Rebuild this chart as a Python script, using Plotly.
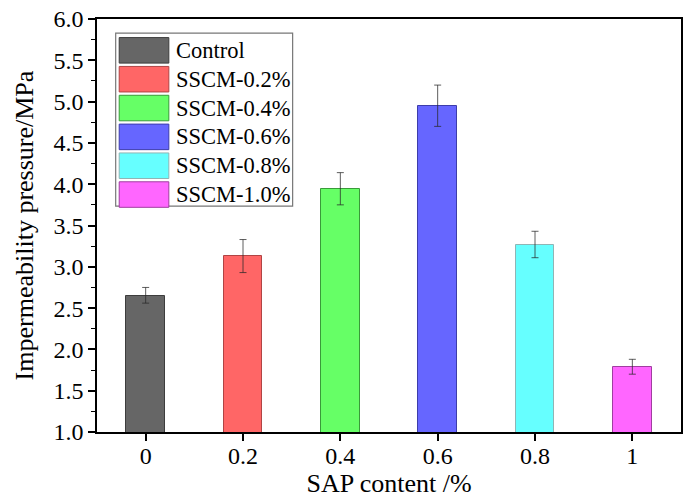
import plotly.graph_objects as go

# ---- data ----
sap_content = [0, 0.2, 0.4, 0.6, 0.8, 1.0]
tick_labels = ["0", "0.2", "0.4", "0.6", "0.8", "1"]
series_names = ["Control", "SSCM-0.2%", "SSCM-0.4%", "SSCM-0.6%", "SSCM-0.8%", "SSCM-1.0%"]
pressure = [2.65, 3.13, 3.94, 4.95, 3.27, 1.79]
err_plus = [0.10, 0.20, 0.20, 0.25, 0.16, 0.09]
err_minus = [0.09, 0.20, 0.19, 0.25, 0.16, 0.09]

# ---- styles ----
fills = ["#666666", "#FF6666", "#66FF66", "#6666FF", "#66FFFF", "#FF66FF"]
edges = ["#3d3d3d", "#b04444", "#3a9a3a", "#3d3daa", "#8fb5b5", "#a03ea0"]
FONT = "Liberation Serif, Times New Roman, serif"

fig = go.Figure()
for x, y, ep, em, name, fc, ec in zip(sap_content, pressure, err_plus, err_minus,
                                      series_names, fills, edges):
    fig.add_trace(go.Bar(
        x=[x], y=[y], name=name, width=0.08,
        marker=dict(color=fc, line=dict(color=ec, width=1)),
        error_y=dict(type="data", array=[ep], arrayminus=[em], visible=True,
                     color="rgba(40,40,40,0.75)", thickness=1, width=3.5),
        showlegend=False,
    ))

# ---- custom legend (large swatches like the original) ----
box_x0, box_x1 = 0.032, 0.335
box_top, box_bot = 0.966, 0.547
row_h = (box_top - box_bot) / len(series_names)
shapes = [dict(type="rect", xref="paper", yref="paper",
               x0=box_x0, x1=box_x1, y0=box_bot, y1=box_top,
               line=dict(color="#777777", width=1.2), fillcolor="white", layer="above")]
annotations = []
for i, (name, fc, ec) in enumerate(zip(series_names, fills, edges)):
    yt = box_top - 0.011 - i * row_h
    yb = yt - row_h + 0.008
    shapes.append(dict(type="rect", xref="paper", yref="paper",
                       x0=0.038, x1=0.123, y0=yb, y1=yt,
                       line=dict(color=ec, width=1), fillcolor=fc, layer="above"))
    annotations.append(dict(xref="paper", yref="paper", x=0.131, y=(yt + yb) / 2,
                            text=name, showarrow=False, xanchor="left", yanchor="middle",
                            font=dict(family=FONT, size=22.5, color="black")))

fig.update_layout(
    width=688, height=499,
    margin=dict(l=97, r=5, t=19, b=67),
    paper_bgcolor="white", plot_bgcolor="white",
    font=dict(family=FONT, size=22, color="black"),
    shapes=shapes, annotations=annotations,
    bargap=0,
)
fig.update_xaxes(
    range=[-0.1, 1.1], tickvals=sap_content, ticktext=tick_labels,
    ticks="outside", ticklen=7, tickwidth=1.5, tickcolor="black",
    showline=True, linecolor="black", linewidth=1.5, mirror=True,
    showgrid=False, zeroline=False, ticklabelstandoff=-6,
    title=dict(text="SAP content /%", font=dict(size=26), standoff=1),
    tickfont=dict(size=24),
)
fig.update_yaxes(
    range=[1.0, 6.0], dtick=0.5, tick0=1.0, tickformat=".1f",
    ticks="outside", ticklen=7, tickwidth=1.5, tickcolor="black",
    minor=dict(dtick=0.25, ticks="outside", ticklen=4, tickwidth=1, tickcolor="black"),
    showline=True, linecolor="black", linewidth=1.5, mirror=True,
    showgrid=False, zeroline=False,
    title=dict(text="Impermeability pressure/MPa", font=dict(size=26), standoff=12),
    tickfont=dict(size=24),
)

fig.write_html("out.html")
